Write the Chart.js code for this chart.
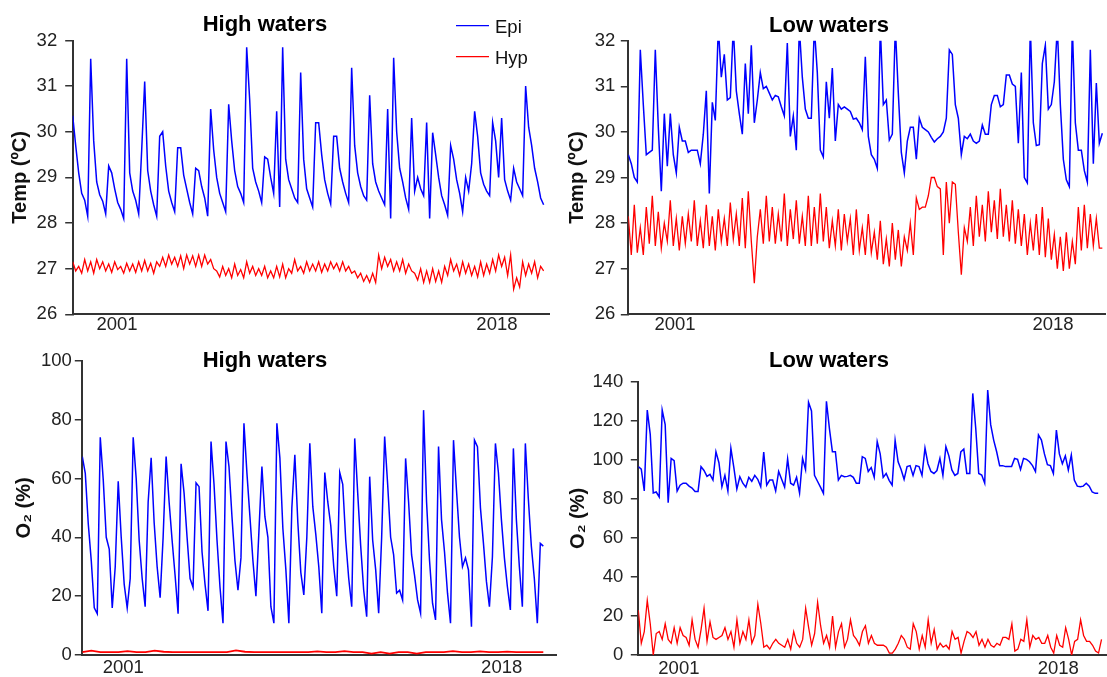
<!DOCTYPE html>
<html>
<head>
<meta charset="utf-8">
<script src="https://cdn.jsdelivr.net/npm/chart.js@4.4.1/dist/chart.umd.min.js"></script>
<style>
  body { margin: 0; background: #fff; }
  #wrap { position: relative; width: 1107px; height: 677px; }
  canvas { position: absolute; }
</style>
</head>
<body>
<div id="wrap">
  <canvas id="tl" width="560" height="340" style="left:0;top:0"></canvas>
  <canvas id="tr" width="547" height="340" style="left:560px;top:0"></canvas>
  <canvas id="bl" width="560" height="337" style="left:0;top:340px"></canvas>
  <canvas id="br" width="547" height="337" style="left:560px;top:340px"></canvas>
</div>
<script>
// series labels and x tick years
var seriesNames = ['Epi', 'Hyp'];
var xTickYears = [2001, 2018];

// Temperature, high waters (ºC)
var tempHighEpi = [
  30.35, 29.7, 29.1, 28.65, 28.5, 28.15, 31.6, 29.8, 28.9, 28.62,
  28.48, 28.2, 29.25, 29.1, 28.75, 28.45, 28.3, 28.1, 31.6, 29.1,
  28.7, 28.5, 28.2, 29.6, 31.1, 29.15, 28.7, 28.4, 28.15, 29.9,
  30.0, 29.25, 28.7, 28.45, 28.25, 29.65, 29.65, 29.05, 28.75, 28.45,
  28.2, 29.2, 29.15, 28.8, 28.55, 28.15, 30.5, 29.6, 29.0, 28.65,
  28.45, 28.25, 30.6, 29.8, 29.15, 28.8, 28.65, 28.45, 31.85, 30.7,
  29.2, 28.9, 28.7, 28.45, 29.45, 29.4, 29.0, 28.65, 30.45, 28.35,
  31.85, 29.4, 28.95, 28.75, 28.55, 28.45, 31.3, 29.4, 28.75, 28.55,
  28.35, 30.2, 30.2, 29.5, 28.95, 28.65, 28.42, 29.9, 29.9, 29.2,
  28.9, 28.65, 28.45, 31.4, 29.7, 29.1, 28.8, 28.6, 28.5, 30.8,
  29.3, 28.9, 28.7, 28.55, 28.4, 30.5, 28.1, 31.62, 30.0, 29.2,
  28.9, 28.55, 28.3, 30.3, 28.7, 29.0, 28.75, 28.6, 30.2, 28.1,
  29.98, 29.5, 29.0, 28.6, 28.4, 28.17, 29.7, 29.4, 28.95, 28.65,
  28.25, 29.0, 28.7, 29.3, 30.45, 29.9, 29.1, 28.85, 28.7, 28.6,
  30.2, 29.8, 29.0, 30.3, 28.95, 28.7, 28.5, 29.2, 28.9, 28.75,
  28.6, 31.0, 30.1, 29.7, 29.2, 28.9, 28.55, 28.4
];
var tempHighHyp = [
  27.15, 26.95, 27.05, 26.9, 27.2, 26.95, 27.15, 26.9, 27.2, 27.0,
  27.15, 26.95, 27.1, 26.92, 27.15, 26.98, 27.05, 26.9, 27.12, 26.95,
  27.1, 26.92, 27.15, 26.95, 27.18, 26.95, 27.12, 26.9, 27.15, 27.05,
  27.25, 27.05, 27.3, 27.1, 27.25, 27.05, 27.28, 27.0, 27.3, 27.1,
  27.28, 27.05, 27.3, 27.05, 27.3, 27.1, 27.2, 27.0, 26.95, 26.82,
  27.05, 26.85, 27.0, 26.8, 27.1, 26.85, 26.98, 26.8, 27.15, 26.9,
  27.05, 26.85, 27.0, 26.85, 27.05, 26.8, 26.95, 26.8, 27.05, 26.82,
  27.1, 26.8, 27.0, 26.9, 27.2, 26.95, 27.05, 26.9, 27.15, 26.95,
  27.1, 26.95, 27.15, 26.92, 27.1, 26.95, 27.15, 27.0, 27.12, 26.95,
  27.15, 26.95, 27.05, 26.9, 26.95, 26.8, 26.9, 26.72, 26.85, 26.7,
  26.9, 26.7, 27.3, 27.0, 27.25, 27.05, 27.2, 26.95, 27.15, 26.95,
  27.2, 26.9, 27.1, 26.95, 26.9, 26.75, 27.0, 26.7, 26.95, 26.7,
  27.0, 26.72, 26.95, 26.7, 27.05, 26.85, 27.2, 26.95, 27.1, 26.85,
  27.15, 26.9, 27.1, 26.85, 27.05, 26.82, 27.15, 26.85, 27.1, 26.9,
  27.2, 26.95, 27.3, 27.05, 27.25, 26.85, 27.3, 26.55, 26.8, 26.6,
  27.15, 26.85, 27.1, 26.9, 27.15, 26.8, 27.05, 26.95
];

// Temperature, low waters (ºC)
var tempLowEpi = [
  29.5, 29.3, 29.0, 28.9, 31.8, 30.6, 29.5, 29.55, 29.6, 31.8,
  30.1, 28.7, 30.4, 29.25, 30.4, 29.5, 29.1, 30.1, 29.8, 29.8,
  29.55, 29.6, 29.6, 29.6, 29.3, 29.95, 30.9, 28.65, 30.65, 30.25,
  32.3, 31.2, 31.7, 30.7, 30.75, 32.3, 30.9, 30.4, 29.95, 31.5,
  30.4, 31.9, 30.2, 30.7, 31.3, 30.95, 31.0, 30.85, 30.7, 30.8,
  30.77, 30.55, 30.35, 31.95, 29.9, 30.35, 29.6, 32.3, 31.2, 30.5,
  30.3, 30.3, 32.3, 31.3, 29.6, 29.45, 31.1, 30.3, 31.4, 29.8,
  30.6, 30.5, 30.55, 30.5, 30.45, 30.28, 30.3, 30.2, 30.05, 31.65,
  29.9, 29.5, 29.4, 29.2, 32.3, 30.6, 30.7, 29.82, 29.95, 32.3,
  30.85, 29.55, 29.1, 29.8, 30.1, 30.1, 29.4, 30.3, 30.1, 30.05,
  30.0, 29.88, 29.78, 29.85, 29.9, 30.0, 30.3, 31.8, 31.7, 30.6,
  30.3, 29.5, 29.9, 29.85, 29.95, 29.8, 29.75, 29.8, 30.15, 29.95,
  29.95, 30.6, 30.8, 30.8, 30.55, 30.6, 31.25, 31.25, 31.05, 31.0,
  29.75, 31.3, 29.0, 28.88, 32.3, 30.2, 29.7, 29.72, 31.5, 31.9,
  30.5, 30.6, 31.1, 32.3, 30.6, 29.4, 28.95, 28.8, 32.3, 30.2,
  29.6, 29.6, 29.15, 28.9, 31.8, 29.3, 31.07, 29.75, 29.97
];
var tempLowHyp = [
  28.15, 27.3, 28.4, 27.35, 27.9, 27.3, 28.35, 27.55, 28.6, 27.5,
  28.25, 27.45, 28.0, 27.6, 28.5, 27.5, 28.1, 27.4, 28.15, 27.55,
  28.2, 27.6, 28.5, 27.5, 28.05, 27.45, 28.4, 27.5, 28.15, 27.4,
  28.3, 27.6, 28.1, 27.5, 28.45, 27.65, 28.2, 27.5, 28.55, 27.45,
  28.7, 27.6, 26.68, 27.7, 28.3, 27.55, 28.6, 27.6, 28.35, 27.55,
  28.2, 27.6, 28.65, 27.5, 28.3, 27.65, 28.5, 27.55, 28.15, 27.5,
  28.6, 27.5, 28.35, 27.55, 28.65, 27.6, 28.35, 27.45, 28.05, 27.5,
  28.3, 27.4, 28.2, 27.6, 28.1, 27.3, 28.3, 27.4, 27.9, 27.3,
  28.2, 27.35, 27.8, 27.2, 28.05, 27.1, 27.65, 27.05, 28.0, 27.2,
  27.85, 27.05, 27.7, 27.4, 28.0, 27.3, 28.55, 28.3, 28.35, 28.35,
  28.6, 29.0, 29.0, 28.8, 28.75, 27.3, 28.9, 28.0, 28.9, 28.85,
  27.8, 26.87, 27.9, 27.6, 28.35, 27.5, 28.6, 27.7, 28.4, 27.6,
  28.7, 27.8, 28.5, 27.65, 28.75, 27.7, 28.4, 27.6, 28.5, 27.55,
  28.3, 27.5, 28.2, 27.3, 28.0, 27.4, 28.2, 27.3, 28.35, 27.25,
  28.1, 27.2, 27.75, 27.0, 27.7, 26.95, 27.8, 27.0, 27.6, 27.1,
  28.35, 27.4, 28.4, 27.45, 28.2, 27.5, 28.1, 27.45, 27.45
];

// O2 saturation, high waters (%)
var o2HighEpi = [
  67.4, 61.7, 44.5, 32, 16, 14, 74, 59.5, 40, 36,
  16, 30, 59, 40, 24, 16, 26, 74, 60, 39,
  26, 16.4, 52, 67, 45, 30, 19.5, 40, 67.4, 52,
  39, 27, 14, 65, 55, 40, 26, 23, 58.5, 57.2,
  35, 24, 15, 72.5, 58, 39, 23, 10.8, 72.5, 64,
  47, 32, 22, 33, 78.7, 61.7, 47, 32, 20, 42,
  64, 47, 40, 16.4, 10.8, 78.7, 67, 43, 29, 10.8,
  50, 68, 45, 28, 20.4, 40, 71.9, 50.4, 41, 30,
  14.2, 62, 52, 44, 30, 20, 62, 58, 39, 26,
  16.4, 73.6, 55, 37, 22, 13, 60.6, 39, 29, 14.2,
  40, 74.2, 58, 40, 34, 21, 22, 18.7, 66.8, 52,
  34, 27, 18.7, 14.2, 83.2, 52, 32, 17.6, 11.9, 70.8,
  46, 35, 21, 10.8, 73, 56, 40, 30, 33, 28.9,
  9.6, 73, 70.8, 50, 38, 25, 16.4, 33.4, 71.9, 62,
  46, 33, 23.2, 15.3, 70.2, 46, 30, 16.4, 71.9, 53,
  37, 26, 10.8, 37.9, 37
];
var o2HighHyp = [
  1.0, 1.5, 1.0, 1.0, 1.0, 1.3, 1.0, 1.0, 1.5, 1.1,
  1.0, 1.0, 1.0, 1.0, 1.0, 1.0, 1.0, 1.6, 1.1, 1.0,
  1.0, 1.0, 1.0, 1.0, 1.0, 1.0, 1.2, 1.0, 1.0, 1.3,
  1.0, 1.0, 0.5, 1.0, 0.5, 1.0, 1.0, 0.5, 1.0, 1.0,
  1.0, 1.3, 1.0, 1.0, 1.2, 1.0, 1.0, 1.15, 1.0, 1.0,
  1.0, 1.0
];

// O2 saturation, low waters (%)
var o2LowEpi = [
  96.5, 95.2, 84, 125.5, 113, 83, 83.5, 81, 125.5, 118,
  78, 100.7, 99.5, 84, 87, 88, 88, 86.5, 85.5, 83.7,
  83.7, 96.5, 94.5, 91.5, 92.5, 89.6, 104.1, 98.5, 86.2, 92,
  84, 105.9, 96, 85, 91.3, 88, 86, 91, 89, 92,
  90, 86.2, 104, 87, 89.6, 89.6, 84, 94, 90, 86,
  100.5, 88, 87, 91, 83, 100.7, 95, 129.5, 125, 92,
  89, 86, 82.8, 130, 116, 104.1, 104.1, 89.6, 92, 91.3,
  91.5, 92, 91, 88, 88, 101.6, 100.7, 94, 96, 91,
  109.3, 103, 91, 93, 89.5, 87, 110, 99, 95, 90,
  96.5, 97, 92, 97, 96.5, 92, 106, 98, 94, 93,
  94.5, 100.7, 92, 106.7, 102, 94.8, 92, 93, 104, 105.5,
  93, 93, 134, 116, 93, 92.2, 88, 135.7, 118, 110.1,
  104.1, 97, 97, 96.5, 96.5, 96.5, 100.7, 100.2, 95, 100.7,
  100.2, 99, 97, 94, 112.7, 110.1, 103, 97.5, 97, 93,
  115.2, 103, 98, 102, 94.8, 102.4, 89.6, 86.5, 86.2, 86.5,
  88, 86.5, 83.5, 82.8, 82.8
];
var o2LowHyp = [
  23, 6, 12, 28, 16, 0, 11, 12, 8, 16,
  8, 6, 14, 6, 14, 10, 9, 5, 18, 8,
  4, 13, 24, 7, 17, 9, 8, 9, 10, 14,
  8, 12, 4, 18, 6, 12, 8, 18, 6, 10,
  26, 16, 4, 5, 3, 6, 8, 6, 5, 4,
  8, 3, 12, 6, 4, 8, 24, 14, 5, 11,
  27, 15, 6, 10, 4, 20, 4, 12, 16, 4,
  8, 18, 10, 8, 5, 12, 15, 6, 10, 6,
  5, 5, 5, 4, 1, 1, 3, 6, 10, 8,
  4, 3, 16, 12, 3, 10, 4, 18, 6, 13,
  3, 6, 4, 5, 3, 12, 8, 9, 1, 7,
  12, 11, 9, 12, 5, 8, 4, 8, 5, 4,
  6, 5, 9, 9, 8, 16, 2, 3, 8, 7,
  18, 4, 10, 8, 9, 6, 6, 10, 4, 1,
  10, 5, 4, 14, 8, 0, 7, 8, 18, 10,
  7, 7, 5, 2, 1, 8
];

var FONT = '"Liberation Sans", Arial, Helvetica, sans-serif';
Chart.defaults.font.family = FONT;

// spread a series evenly over its time span (decimal years)
function toPoints(vals, t0, t1) {
  var step = (t1 - t0) / (vals.length - 1);
  return vals.map(function(v, i) { return { x: t0 + i * step, y: v }; });
}

// panel title + legend drawn on top
var panelDeco = {
  id: 'panelDeco',
  afterDraw: function(chart, args, opts) {
    var ctx = chart.ctx;
    ctx.save();
    ctx.fillStyle = '#000';
    ctx.textAlign = 'center';
    ctx.textBaseline = 'alphabetic';
    ctx.font = 'bold 22px ' + FONT;
    ctx.fillText(opts.title, opts.titleX, opts.titleY);
    if (opts.legend) {
      var lg = opts.legend;
      chart.data.datasets.forEach(function(ds, i) {
        var y = lg.y + i * lg.dy;
        ctx.strokeStyle = ds.borderColor;
        ctx.lineWidth = 1.2;
        ctx.beginPath();
        ctx.moveTo(lg.x, y);
        ctx.lineTo(lg.x + 33, y);
        ctx.stroke();
        ctx.font = '18.5px ' + FONT;
        ctx.fillStyle = '#111';
        ctx.textAlign = 'left';
        ctx.fillText(ds.label, lg.x + 39, y + 7);
      });
    }
    ctx.restore();
  }
};

function makePanel(id, p) {
  var ctx = document.getElementById(id).getContext('2d');
  return new Chart(ctx, {
    type: 'line',
    data: {
      datasets: [{
        label: seriesNames[0],
        data: toPoints(p.epi, p.epiT[0], p.epiT[1]),
        borderColor: '#0000ff',
        borderWidth: 1.5,
        pointRadius: 0,
        tension: 0
      }, {
        label: seriesNames[1],
        data: toPoints(p.hyp, p.hypT[0], p.hypT[1]),
        borderColor: '#ff0000',
        borderWidth: p.hypWidth || 1.3,
        pointRadius: 0,
        tension: 0
      }]
    },
    options: {
      responsive: false,
      animation: false,
      devicePixelRatio: 1,
      layout: { padding: { left: 0, top: p.top, right: p.right, bottom: 0 } },
      plugins: {
        legend: { display: false },
        tooltip: { enabled: false },
        panelDeco: { title: p.title, titleX: p.titleX, titleY: p.titleY, legend: p.legend }
      },
      scales: {
        x: {
          type: 'linear',
          min: p.xMin,
          max: p.xMax,
          afterBuildTicks: function(scale) {
            scale.ticks = xTickYears.map(function(v) { return { value: v }; });
          },
          ticks: {
            color: '#222',
            font: { size: 18.5 },
            padding: p.xPad,
            maxRotation: 0,
            callback: function(v) { return String(v); }
          },
          grid: { display: false, drawTicks: false },
          border: { display: true, color: '#333', width: 2 },
          afterFit: function(scale) { scale.height = p.xH; }
        },
        y: {
          min: p.yMin,
          max: p.yMax,
          ticks: { stepSize: p.yStep, color: '#222', font: { size: 18.5 }, padding: p.yPad },
          grid: { display: true, drawOnChartArea: false, drawTicks: true, tickLength: 7.5, color: '#333', lineWidth: 1.5 },
          border: { display: true, color: '#333', width: 2 },
          title: {
            display: true,
            text: p.yTitle,
            color: '#111',
            font: { size: 20, weight: 'bold' },
            padding: { top: p.yTitlePad, bottom: 0 }
          },
          afterFit: function(scale) { scale.width = p.yW; }
        }
      }
    },
    plugins: [panelDeco]
  });
}

makePanel('tl', {
  epi: tempHighEpi, hyp: tempHighHyp,
  epiT: [1999.02, 2020.09], hypT: [1999.02, 2020.09],
  xMin: 1999.02, xMax: 2020.33,
  yMin: 26, yMax: 32, yStep: 1, yTitle: 'Temp (ºC)',
  top: 40.5, right: 11, yW: 72.7, xH: 25.7, xPad: 0, yPad: 8, yTitlePad: 8,
  title: 'High waters', titleX: 265, titleY: 31,
  legend: { x: 456, y: 25.7, dy: 31 }
});

makePanel('tr', {
  epi: tempLowEpi, hyp: tempLowHyp,
  epiT: [1998.9, 2020.22], hypT: [1998.9, 2020.22],
  xMin: 1998.9, xMax: 2020.34,
  yMin: 26, yMax: 32, yStep: 1, yTitle: 'Temp (ºC)',
  top: 40.7, right: 2, yW: 68.3, xH: 25.7, xPad: 0, yPad: 5.5, yTitlePad: 5,
  title: 'Low waters', titleX: 269, titleY: 31.5,
  legend: null
});

makePanel('bl', {
  epi: o2HighEpi, hyp: o2HighHyp,
  epiT: [1999.16, 2019.87], hypT: [1999.16, 2019.87], hypWidth: 1.8,
  xMin: 1999.16, xMax: 2020.44,
  yMin: 0, yMax: 100, yStep: 20, yTitle: 'O\u2082 (%)',
  top: 20.7, right: 4, yW: 82.3, xH: 22, xPad: 1.7, yPad: 3, yTitlePad: 12,
  title: 'High waters', titleX: 265, titleY: 26.7,
  legend: null
});

makePanel('br', {
  epi: o2LowEpi, hyp: o2LowHyp,
  epiT: [1999.18, 2019.79], hypT: [1999.18, 2019.94],
  xMin: 1999.18, xMax: 2020.14,
  yMin: 0, yMax: 140, yStep: 20, yTitle: 'O\u2082 (%)',
  top: 41.7, right: 1, yW: 78.3, xH: 22, xPad: 3, yPad: 7.5, yTitlePad: 6,
  title: 'Low waters', titleX: 269, titleY: 26.7,
  legend: null
});
</script>
</body>
</html>
